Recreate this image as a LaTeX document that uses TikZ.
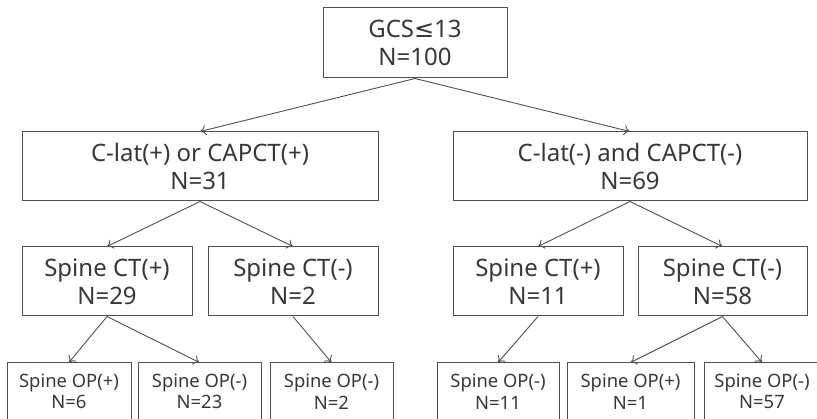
\documentclass[tikz,border=0pt]{standalone}
\usepackage{fontspec}
\setmainfont{Noto Sans}
\newfontfamily\symfont{DejaVu Sans}
\usetikzlibrary{arrows.meta}
\definecolor{ln}{HTML}{505050}
\definecolor{tx}{HTML}{383838}
\tikzset{
  box/.style={draw=ln, line width=1pt, rectangle, inner sep=0pt, align=center, text=tx,
    font=\fontsize{24}{28}\selectfont},
  sbox/.style={box, font=\fontsize{18.4}{21.5}\selectfont},
  arr/.style={draw=ln, line width=0.9pt, -{To[length=6pt,width=10pt]}}
}
\begin{document}
\begin{tikzpicture}[x=1pt,y=-1pt]
\useasboundingbox (0,0) rectangle (817,419);
\clip (0,0) rectangle (817,419);
\fill[white] (0,0) rectangle (817,419);
\node[box, minimum width=184pt, minimum height=70pt] (top) at (415,43) {GCS{\symfont ≤}13\\N=100};
\node[box, minimum width=356pt, minimum height=69pt] (l2a) at (200,166.5) {C-lat(+) or CAPCT(+)\\N=31};
\node[box, minimum width=354pt, minimum height=69pt] (l2b) at (630,166.5) {C-lat(-) and CAPCT(-)\\N=69};
\node[box, minimum width=170pt, minimum height=69pt] (l3a) at (107,281.5) {Spine CT(+)\\N=29};
\node[box, minimum width=170pt, minimum height=69pt] (l3b) at (293,281.5) {Spine CT(-)\\N=2};
\node[box, minimum width=170pt, minimum height=69pt] (l3c) at (538,281.5) {Spine CT(+)\\N=11};
\node[box, minimum width=169pt, minimum height=69pt] (l3d) at (722.5,281.5) {Spine CT(-)\\N=58};
\node[sbox, minimum width=124pt, minimum height=57pt] (b1) at (69,391.5) {Spine OP(+)\\N=6};
\node[sbox, minimum width=123pt, minimum height=57pt] (b2) at (199.5,391.5) {Spine OP(-)\\N=23};
\node[sbox, minimum width=123pt, minimum height=57pt] (b3) at (331.5,391.5) {Spine OP(-)\\N=2};
\node[sbox, minimum width=122pt, minimum height=57pt] (b4) at (498,391.5) {Spine OP(-)\\N=11};
\node[sbox, minimum width=127pt, minimum height=57pt] (b5) at (630.5,391.5) {Spine OP(+)\\N=1};
\node[sbox, minimum width=116pt, minimum height=57pt] (b6) at (762,391.5) {Spine OP(-)\\N=57};
\draw[arr] (top.south) -- (l2a.north);
\draw[arr] (top.south) -- (l2b.north);
\draw[arr] (l2a.south) -- (l3a.north);
\draw[arr] (l2a.south) -- (l3b.north);
\draw[arr] (l2b.south) -- (l3c.north);
\draw[arr] (l2b.south) -- (l3d.north);
\draw[arr] (l3a.south) -- (b1.north);
\draw[arr] (l3a.south) -- (b2.north);
\draw[arr] (l3b.south) -- (b3.north);
\draw[arr] (l3c.south) -- (b4.north);
\draw[arr] (l3d.south) -- (b5.north);
\draw[arr] (l3d.south) -- (b6.north);
\end{tikzpicture}
\end{document}
